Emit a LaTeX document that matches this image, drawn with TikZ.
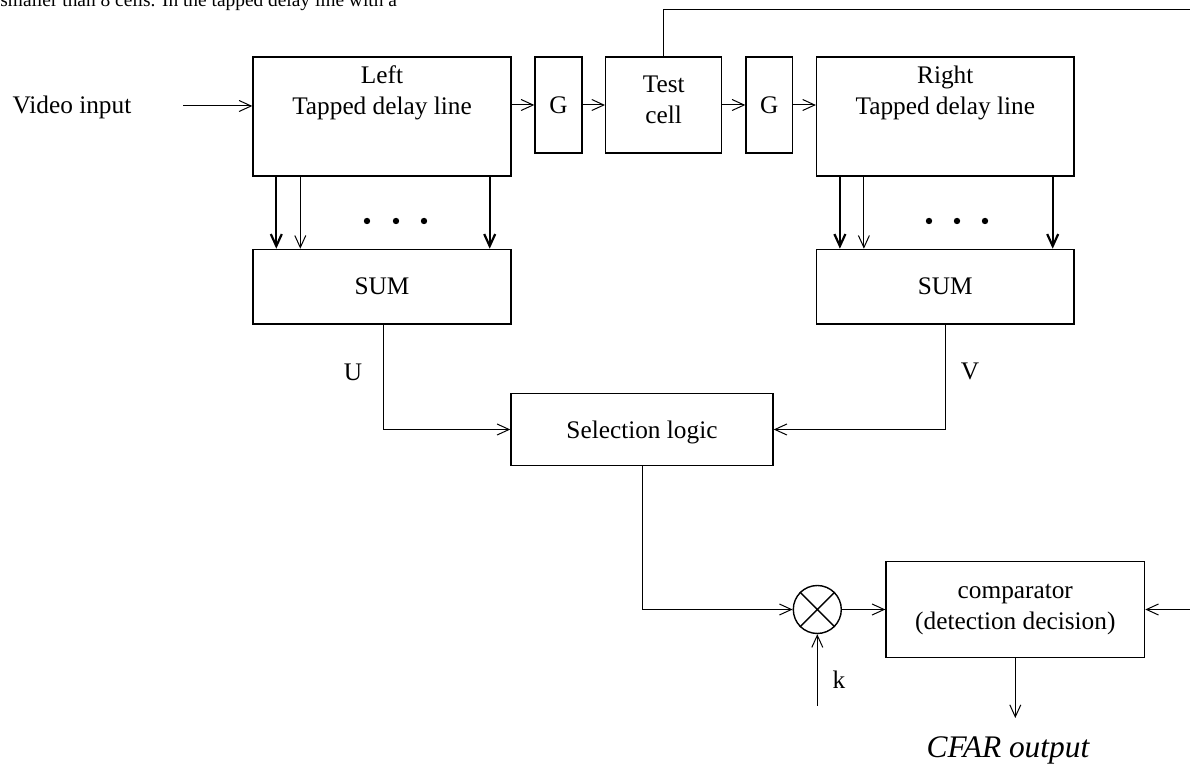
\documentclass[tikz,border=0pt]{standalone}
\usepackage{fontspec}
\setmainfont{Liberation Serif}
\usetikzlibrary{arrows.meta,positioning}

\begin{document}
\begin{tikzpicture}[x=0.5pt,y=-0.5pt,
  >={Straight Barb[length=6pt,width=5.5pt]},
  every node/.style={font=\fontsize{12.65}{15.5}\selectfont},
  blk/.style={draw,line width=0.7pt,inner sep=0pt,align=center},
  wire/.style={line width=0.5pt},
  tap/.style={->,line width=1.1pt}]
\useasboundingbox (0,0) rectangle (1190,774);

\node[anchor=base west,inner sep=0pt,font=\fontsize{9.7}{12}\selectfont] (prevtext) at (0,7) {smaller than 8 cells. In the tapped delay line with a};

\node[blk,minimum width=129pt,minimum height=59.5pt] (ltdl) at (382,116.5) {};
\node[align=center] (ltdltext) at (382,93) {Left\\Tapped delay line};
\node[blk,minimum width=23.5pt,minimum height=48pt] (g1) at (558.5,105) {G};
\node[blk,minimum width=58pt,minimum height=48pt] (test) at (663.7,105) {};
\node[align=center] (testtext) at (663.7,100) {Test\\cell};
\node[blk,minimum width=23.3pt,minimum height=48pt] (g2) at (769.3,105) {G};
\node[blk,minimum width=128.7pt,minimum height=59.5pt] (rtdl) at (945.3,116.5) {};
\node[align=center] (rtdltext) at (945.3,93) {Right\\Tapped delay line};

\node[blk,minimum width=129pt,minimum height=37.3pt] (lsum) at (382,286.7) {SUM};
\node[blk,minimum width=128.7pt,minimum height=37.3pt] (rsum) at (945.3,286.7) {SUM};
\node[blk,minimum width=131pt,minimum height=36.2pt] (sel) at (642,429.5) {};
\node (seltext) at (642,432) {Selection logic};
\node[draw,circle,line width=0.7pt,minimum size=24pt,inner sep=0pt] (mix) at (817.3,609.5) {};
\node[blk,minimum width=129.3pt,minimum height=47.8pt] (comp) at (1015.3,609.5) {comparator\\(detection decision)};

\node[anchor=base] (vin) at (72,114) {Video input};
\node[anchor=base] (ulab) at (353,381) {U};
\node[anchor=base] (vlab) at (970,380) {V};
\node[anchor=base] (klab) at (839,689) {k};
\node[anchor=base,font=\fontsize{15.7}{19}\selectfont\itshape] (cfar) at (1008,758) {CFAR output};

\coordinate (vinout) at (183,106);
\coordinate (fbout) at (1192,10);
\coordinate (thrin) at (1192,609.5);
\coordinate (kin) at (817.3,705.7);
\coordinate (cfarend) at (1015.3,718);

\draw[wire,->] (vinout) -- (vinout -| ltdl.west);
\draw[wire,->] (ltdl.east |- g1.west) -- (g1.west);
\draw[wire,->] (g1) -- (test);
\draw[wire,->] (test) -- (g2);
\draw[wire,->] (g2.east) -- (rtdl.west |- g2.east);
\draw[wire] (test.north) -- (test.north |- fbout) -- (fbout);

\foreach \t/\s in {ltdl/lsum,rtdl/rsum}{
  \draw[tap] ([xshift=12pt]\t.south west) -- ([xshift=12pt]\s.north west);
  \draw[wire,->] ([xshift=24pt]\t.south west) -- ([xshift=24pt]\s.north west);
  \draw[tap] ([xshift=-11pt]\t.south east) -- ([xshift=-11pt]\s.north east);
}
\foreach \x in {367,396,424,929,957,985}
  \fill (\x,221) circle (1.6pt);

\draw[wire,->] (383,0 |- lsum.south) -- (383,0 |- sel.west) -- (sel.west);
\draw[wire,->] (rsum.south) -- (rsum.south |- sel.east) -- (sel.east);
\draw[wire,->] (sel.south) -- (sel.south |- mix.west) -- (mix.west);
\draw[line width=0.7pt] (mix.north west) -- (mix.south east) (mix.north east) -- (mix.south west);
\draw[wire,->] (mix.east) -- (comp.west);
\draw[wire,->] (kin) -- (mix.south);
\draw[wire,->] (thrin) -- (comp.east);
\draw[wire,->] (comp.south) -- (cfarend);
\end{tikzpicture}
\end{document}
